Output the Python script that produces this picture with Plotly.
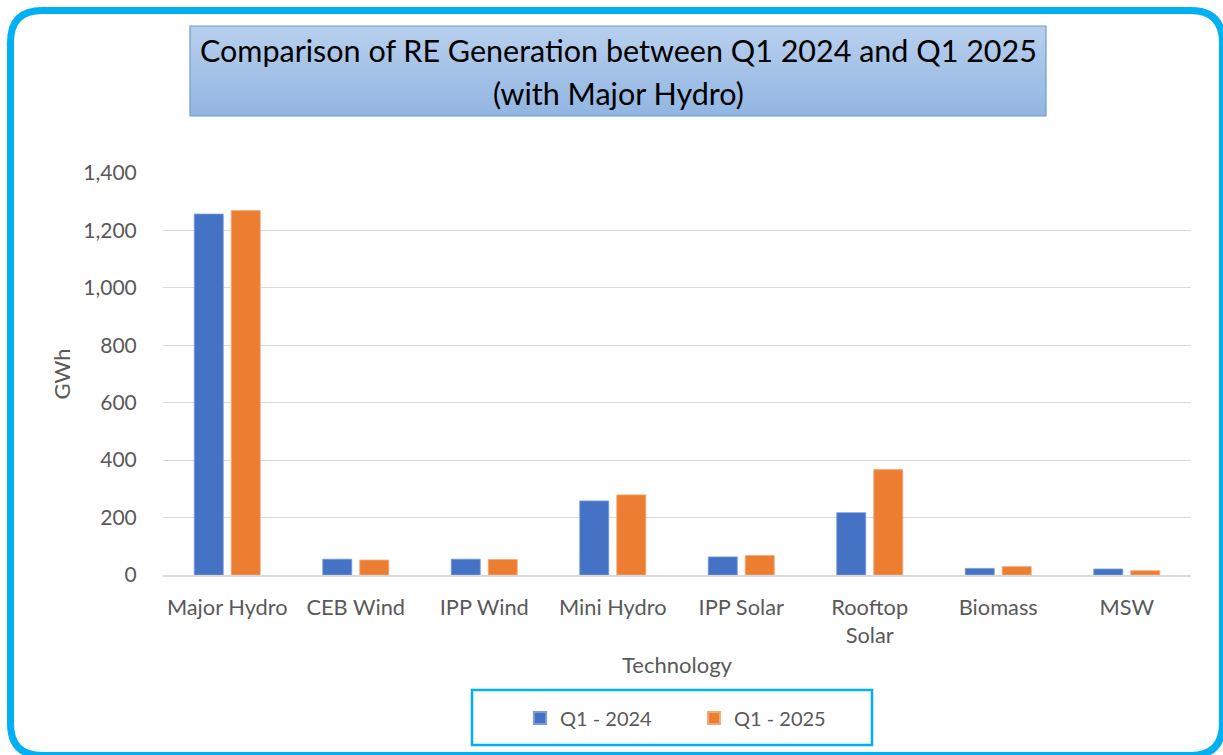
import plotly.graph_objects as go

categories = ["Major Hydro", "CEB Wind", "IPP Wind", "Mini Hydro", "IPP Solar",
              "Rooftop Solar", "Biomass", "MSW"]
tick_labels = ["Major Hydro", "CEB Wind", "IPP Wind", "Mini Hydro", "IPP Solar",
               "Rooftop<br>Solar", "Biomass", "MSW"]
q1_2024 = [1257, 55, 55, 258, 63, 217, 23, 21]
q1_2025 = [1269, 52, 54, 279, 68, 367, 29, 15]
series_names = ["Q1 - 2024", "Q1 - 2025"]
y_ticks = [0, 200, 400, 600, 800, 1000, 1200, 1400]
title_lines = ["Comparison of RE Generation between Q1 2024 and Q1 2025", "(with Major Hydro)"]

W, H = 1223, 755
L, R, T, B = 163, 1191, 173, 575  # plot area in pixels

def xp(px):
    return (px - L) / (R - L)

def yp(py):
    return (B - py) / (B - T)

FONT = "Lato"
GRAY = "#595959"

fig = go.Figure()
fig.add_trace(go.Bar(x=categories, y=q1_2024, name=series_names[0],
                     marker=dict(color="#4472C4", line=dict(color="#7c9bd6", width=0.8))))
fig.add_trace(go.Bar(x=categories, y=q1_2025, name=series_names[1],
                     marker=dict(color="#ED7D31", line=dict(color="#f3a877", width=0.8))))

shapes = []
# outer rounded frame
x0, x1, y0, y1, r = 10.5, 1222.5, 10.5, 755.5, 32
path = (f"M {xp(x0+r)},{yp(y0)} L {xp(x1-r)},{yp(y0)} Q {xp(x1)},{yp(y0)} {xp(x1)},{yp(y0+r)} "
        f"L {xp(x1)},{yp(y1-r)} Q {xp(x1)},{yp(y1)} {xp(x1-r)},{yp(y1)} "
        f"L {xp(x0+r)},{yp(y1)} Q {xp(x0)},{yp(y1)} {xp(x0)},{yp(y1-r)} "
        f"L {xp(x0)},{yp(y0+r)} Q {xp(x0)},{yp(y0)} {xp(x0+r)},{yp(y0)} Z")
shapes.append(dict(type="path", xref="paper", yref="paper", path=path,
                   line=dict(color="#00B0F0", width=7), layer="below"))

# title box with vertical gradient
bx0, bx1, by0, by1 = 190, 1046, 26, 116
c_top = (0xB7, 0xCF, 0xED)
c_bot = (0x92, 0xB6, 0xE2)
n = 30
for i in range(n):
    t = i / (n - 1)
    c = tuple(round(a + (b - a) * t) for a, b in zip(c_top, c_bot))
    ya = by0 + (by1 - by0) * i / n
    yb = by0 + (by1 - by0) * (i + 1) / n + 0.6
    shapes.append(dict(type="rect", xref="paper", yref="paper",
                       x0=xp(bx0), x1=xp(bx1), y0=yp(ya), y1=yp(min(yb, by1)),
                       fillcolor="rgb(%d,%d,%d)" % c, line=dict(width=0), layer="below"))
shapes.append(dict(type="rect", xref="paper", yref="paper",
                   x0=xp(bx0), x1=xp(bx1), y0=yp(by0), y1=yp(by1),
                   line=dict(color="#6E9BD3", width=1.2), fillcolor="rgba(0,0,0,0)"))

# legend box
shapes.append(dict(type="rect", xref="paper", yref="paper",
                   x0=xp(472), x1=xp(872), y0=yp(690), y1=yp(745),
                   line=dict(color="#00B0F0", width=2.5), fillcolor="white", layer="below"))

annotations = [
    dict(text=title_lines[0], xref="paper", yref="paper", x=xp(618), y=yp(50),
         xanchor="center", yanchor="middle", showarrow=False,
         font=dict(family=FONT, size=30.5, color="black")),
    dict(text=title_lines[1], xref="paper", yref="paper", x=xp(618), y=yp(93),
         xanchor="center", yanchor="middle", showarrow=False,
         font=dict(family=FONT, size=30.5, color="black")),
]

fig.update_layout(
    width=W, height=H,
    margin=dict(l=L, r=W - R, t=T, b=H - B, pad=0),
    paper_bgcolor="white", plot_bgcolor="white",
    barmode="group", bargap=0.424, bargroupgap=0.216,
    font=dict(family=FONT, color=GRAY, size=21),
    shapes=shapes, annotations=annotations,
    showlegend=True,
    legend=dict(orientation="h", x=xp(520), y=yp(718), xanchor="left", yanchor="middle",
                font=dict(family=FONT, size=20, color=GRAY), bgcolor="rgba(0,0,0,0)",
                entrywidth=129, entrywidthmode="pixels", itemsizing="constant"),
    xaxis=dict(tickmode="array", tickvals=categories, ticktext=tick_labels,
               showline=True, linecolor="#D9D9D9", linewidth=1.5,
               ticks="outside", ticklen=12, tickcolor="rgba(0,0,0,0)",
               tickfont=dict(size=21.8, color=GRAY),
               title=dict(text="Technology", font=dict(size=22, color=GRAY), standoff=10)),
    yaxis=dict(range=[0, 1400], tickmode="array", tickvals=y_ticks, tickformat=",",
               showgrid=True, gridcolor="#D9D9D9", gridwidth=1.2, zeroline=False,
               ticks="outside", ticklen=21, tickcolor="rgba(0,0,0,0)",
               tickfont=dict(size=21, color=GRAY),
               title=dict(text="GWh", font=dict(size=22, color=GRAY), standoff=6)),
)

fig.write_html("out.html", config={"displayModeBar": False},
               post_script="document.body.style.margin='0';")
